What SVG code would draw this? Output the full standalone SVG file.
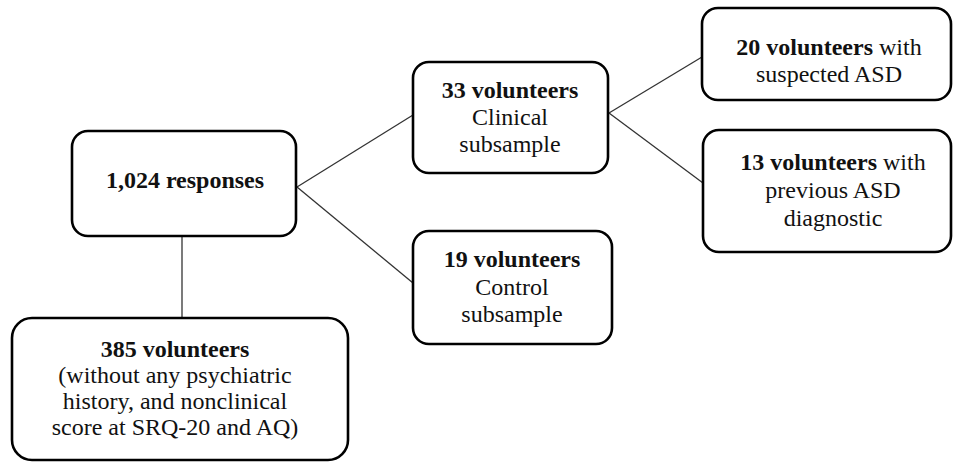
<svg xmlns="http://www.w3.org/2000/svg" width="953" height="463" viewBox="0 0 953 463">
<style>
.box{fill:#fff;stroke:#000;stroke-width:2.6}
.conn{stroke:#333;stroke-width:1.3;fill:none}
text{font-family:"Liberation Serif","Times New Roman",serif;font-size:24px;fill:#111;text-anchor:middle}
.b{font-weight:bold}
</style>
<rect width="953" height="463" fill="#fff"/>
<g id="connectors">
<line class="conn" x1="297" y1="187" x2="413" y2="115"/>
<line class="conn" x1="297" y1="187" x2="413" y2="283"/>
<line class="conn" x1="182" y1="236" x2="182" y2="318"/>
<line class="conn" x1="609" y1="113" x2="702" y2="57"/>
<line class="conn" x1="609" y1="113" x2="703" y2="183"/>
</g>
<g id="n1024">
<rect class="box" x="72" y="131" width="224" height="105" rx="16"/>
<text class="b" x="185" y="188">1,024 responses</text>
</g>
<g id="n385">
<rect class="box" x="12" y="318" width="336" height="142" rx="20"/>
<text class="b" x="175" y="357">385 volunteers</text>
<text x="175" y="383">(without any psychiatric</text>
<text x="175" y="409">history, and nonclinical</text>
<text x="175" y="435">score at SRQ-20 and AQ)</text>
</g>
<g id="n33">
<rect class="box" x="413" y="62" width="195" height="111" rx="16"/>
<text class="b" x="510" y="98">33 volunteers</text>
<text x="510" y="125">Clinical</text>
<text x="510" y="152">subsample</text>
</g>
<g id="n19">
<rect class="box" x="413" y="231" width="199" height="113" rx="16"/>
<text class="b" x="512" y="267">19 volunteers</text>
<text x="512" y="295">Control</text>
<text x="512" y="322">subsample</text>
</g>
<g id="n20">
<rect class="box" x="702" y="8" width="249" height="92" rx="16"/>
<text x="829" y="55"><tspan class="b">20 volunteers</tspan> with</text>
<text x="829" y="82">suspected ASD</text>
</g>
<g id="n13">
<rect class="box" x="703" y="130" width="248" height="122" rx="16"/>
<text x="833" y="170"><tspan class="b">13 volunteers</tspan> with</text>
<text x="833" y="198">previous ASD</text>
<text x="833" y="226">diagnostic</text>
</g>
</svg>
